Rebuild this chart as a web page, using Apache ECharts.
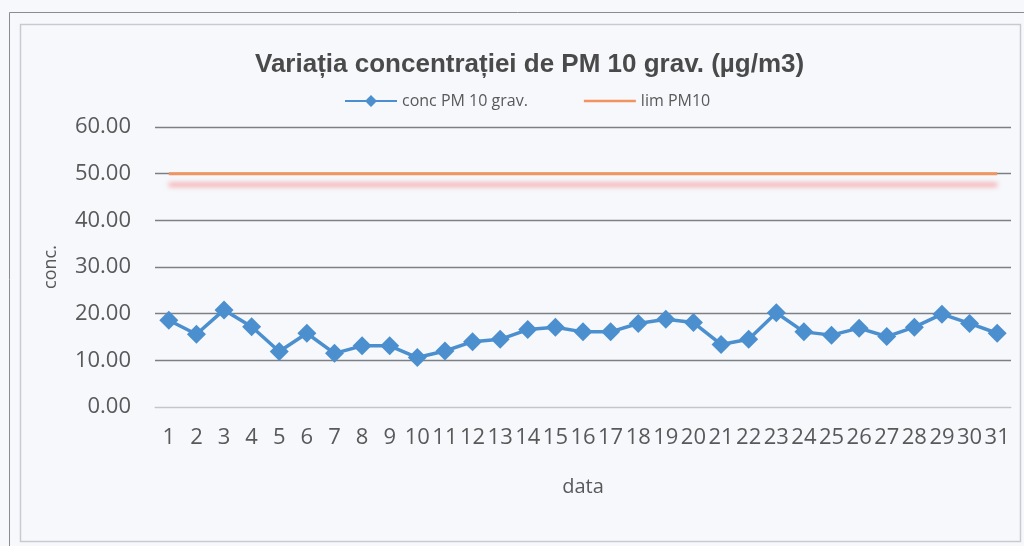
<!DOCTYPE html>
<html>
<head>
<meta charset="utf-8">
<script src="https://cdn.jsdelivr.net/npm/echarts@6/dist/echarts.min.js"></script>
<style>
  html, body { margin: 0; padding: 0; background: #f6f8fc; }
  #chart { width: 1024px; height: 546px; }
</style>
</head>
<body>
<div id="chart"></div>
<script>
// zilele lunii
const days = Array.from({ length: 31 }, (_, i) => String(i + 1));
// concentratie PM10 gravimetric (ug/m3)
const concPM10 = [18.6, 15.6, 20.8, 17.2, 11.9, 15.8, 11.5, 13.1, 13.1, 10.6,
  12.0, 14.0, 14.5, 16.6, 17.1, 16.1, 16.1, 17.9, 18.8, 18.1,
  13.4, 14.5, 20.2, 16.1, 15.4, 16.9, 15.1, 17.1, 19.9, 17.9, 15.8];
// valoare limita
const limPM10 = days.map(() => 50);

const labelFont = '"Open Sans", sans-serif';

const chart = echarts.init(document.getElementById("chart"));
chart.setOption({
  backgroundColor: "#f6f8fc",
  animation: false,
  graphic: [
    {
      type: "rect",
      shape: { x: 9.5, y: 12.5, width: 1030, height: 560 },
      style: { fill: "none", stroke: "#8a8c90", lineWidth: 1 },
    },
    {
      type: "rect",
      shape: { x: 20.5, y: 24.5, width: 1000, height: 517 },
      style: { fill: "none", stroke: "#c8cacf", lineWidth: 1.5 },
    },
  ],
  title: {
    text: "Variația concentrației de PM 10 grav. (µg/m3)",
    left: 250,
    top: 47,
    textStyle: {
      fontFamily: '"Liberation Sans", Arial, sans-serif',
      fontSize: 26,
      fontWeight: "bold",
      color: "#4a4a4a",
    },
  },
  legend: {
    top: 88,
    left: 340,
    itemWidth: 52,
    itemHeight: 12,
    itemGap: 56,
    textStyle: { fontFamily: labelFont, fontSize: 16, color: "#595959" },
    data: [
      { name: "conc PM 10 grav.", icon: "path://M0,5 L21,5 L26,0 L31,5 L52,5 L52,7 L31,7 L26,12 L21,7 L0,7 Z" },
      { name: "lim PM10", icon: "path://M0,5 L52,5 L52,7.5 L0,7.5 Z" },
    ],
  },
  grid: { left: 155, right: 13, top: 127, bottom: 139 },
  xAxis: {
    type: "category",
    data: days,
    name: "data",
    nameLocation: "middle",
    nameGap: 70,
    nameTextStyle: { fontFamily: labelFont, fontSize: 20, color: "#595959" },
    axisLine: { lineStyle: { color: "#c4c6ca" } },
    axisTick: { show: false },
    axisLabel: {
      interval: 0,
      margin: 20,
      fontFamily: labelFont,
      fontSize: 22,
      color: "#595959",
    },
  },
  yAxis: {
    type: "value",
    min: 0,
    max: 60,
    interval: 10,
    name: "conc.",
    nameLocation: "middle",
    nameGap: 95,
    nameTextStyle: { fontFamily: labelFont, fontSize: 18, color: "#595959" },
    axisLine: { show: false },
    axisTick: { show: false },
    axisLabel: {
      margin: 24,
      fontFamily: labelFont,
      fontSize: 22,
      color: "#595959",
      formatter: (v) => v.toFixed(2),
    },
    splitLine: {
      lineStyle: {
        color: ["#c4c6ca", "#7d7f82", "#7d7f82", "#7d7f82", "#7d7f82", "#7d7f82", "#7d7f82"],
        width: 1.3,
      },
    },
  },
  series: [
    {
      name: "lim PM10",
      type: "line",
      data: limPM10,
      symbol: "none",
      color: "#f2945f",
      lineStyle: {
        width: 3,
        color: "#f2945f",
        shadowColor: "rgba(246, 130, 130, 0.9)",
        shadowBlur: 5,
        shadowOffsetY: 11,
      },
    },
    {
      name: "conc PM 10 grav.",
      type: "line",
      data: concPM10,
      symbol: "diamond",
      symbolSize: 19,
      color: "#4b8fcf",
      lineStyle: { width: 3.5, color: "#4b8fcf" },
      itemStyle: { color: "#4b8fcf" },
    },
  ],
});
</script>
</body>
</html>
